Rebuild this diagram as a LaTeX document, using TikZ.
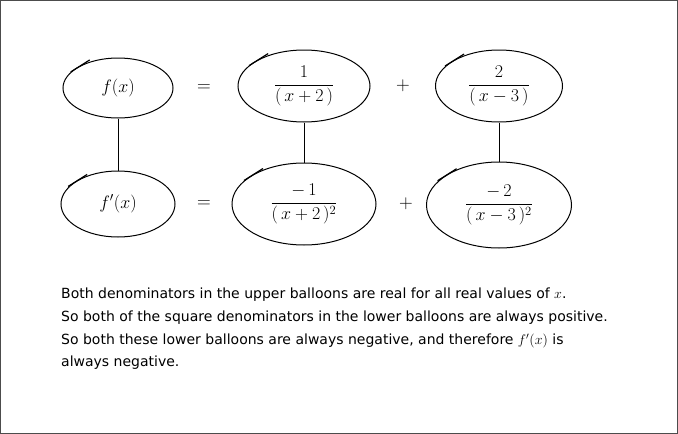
\documentclass[tikz,border=0pt]{standalone}
\usepackage{fontspec}
\usepackage{fix-cm}
\usepackage{amsmath}
\usepackage{tikz}
\usetikzlibrary{shapes.geometric}
\newfontfamily\notefont{DejaVu Sans}

\begin{document}
\begin{tikzpicture}[x=1pt, y=-1pt,
        balloon/.style={ellipse, draw, line width=1pt, inner sep=0pt, font=\fontsize{18}{20}\selectfont},
        tick/.style={line width=1.2pt},
        stem/.style={line width=0.9pt},
        sign/.style={font=\fontsize{19}{21}\selectfont},
        note/.style={anchor=north west, align=left, inner sep=0pt, font=\notefont\fontsize{14}{22.7}\selectfont}
    ]
        \useasboundingbox (0,0) rectangle (678,434);
        \draw[line width=0.6pt, black!70] (0.5,0.5) rectangle (677.5,433.5);
        % upper row
        \node[balloon, minimum width=110, minimum height=60] (fx) at (118,88) {$f(x)$};
        \node[balloon, minimum width=132, minimum height=72] (upA) at (304,86) {$\dfrac{1}{(\,x+2\,)}$};
        \node[balloon, minimum width=127, minimum height=72] (upB) at (499,86) {$\dfrac{2}{(\,x-3\,)}$};
        \node[sign] (eqtop) at (204,88) {$=$};
        \node[sign] (plustop) at (403,86) {$+$};
        % lower row
        \node[balloon, minimum width=114, minimum height=66] (dfx) at (118,204) {$f'(x)$};
        \node[balloon, minimum width=144, minimum height=82] (lowA) at (304,204) {$\dfrac{-\,1}{(\,x+2\,)^2}$};
        \node[balloon, minimum width=145, minimum height=86] (lowB) at (499,205) {$\dfrac{-\,2}{(\,x-3\,)^2}$};
        \node[sign] (eqlow) at (204,204) {$=$};
        \node[sign] (pluslow) at (406,204) {$+$};
        % stems
        \draw[stem] (fx) -- (dfx);
        \draw[stem] (upA) -- (lowA);
        \draw[stem] (upB) -- (lowB);
        % pen starts
        \foreach \b in {fx, upA, upB, dfx, lowA, lowB}
            \draw[tick] ([shift={(-9,6)}]\b.150) -- ([shift={(10,-6)}]\b.150);
        % explanation
        \node[note] (expl) at (61,288) {Both denominators in the upper balloons are real for all real values of $x$.\\
            So both of the square denominators in the lower balloons are always positive.\\
            So both these lower balloons are always negative, and therefore $f'(x)$\ is\\
            always negative.};
    \end{tikzpicture}
\end{document}
